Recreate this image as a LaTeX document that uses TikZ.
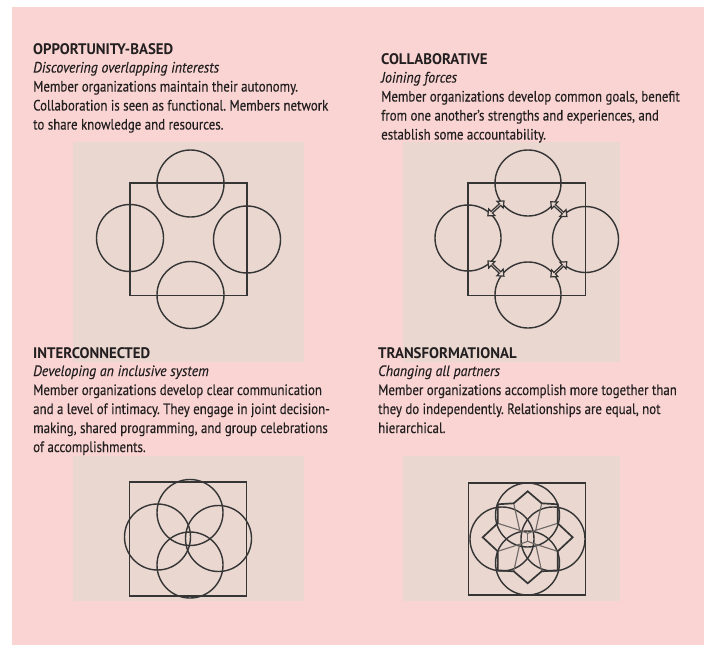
\documentclass[tikz,border=0pt]{standalone}
\usepackage{fontspec}
\setmainfont{PT Sans}[
  UprightFeatures={FakeStretch=0.86, FakeBold=0.25},
  BoldFeatures={FakeStretch=0.97},
  ItalicFeatures={FakeStretch=0.925, FakeBold=0.25}]
\usetikzlibrary{arrows.meta,calc,shapes.arrows}
\definecolor{pinkbg}{HTML}{F9D4D2}
\definecolor{boxbg}{HTML}{E9D7D0}
\definecolor{ink}{HTML}{353535}
\definecolor{txt}{HTML}{231F20}
\definecolor{thinink}{HTML}{6E6866}
\tikzset{
  txtbase/.style={anchor=base west, inner sep=0pt, text=txt},
  head/.style={txtbase, font=\fontsize{15.3}{18}\selectfont\bfseries\frenchspacing},
  sub/.style={txtbase, font=\fontsize{15}{18}\selectfont\itshape\frenchspacing},
  body/.style={txtbase, font=\fontsize{15}{18}\selectfont\frenchspacing},
  panel/.style={fill=boxbg, draw=none},
  sq/.style={draw=ink, line width=1.35pt},
  circ/.style={circle, draw=ink, line width=1.4pt, inner sep=0pt, minimum size=#1},
  circ/.default=66pt,
  dblarrow/.style={double arrow, draw=ink, fill=boxbg, line width=1.2pt, inner sep=0pt,
    minimum height=22pt, minimum width=9pt, double arrow head extend=2pt,
    double arrow tip angle=80},
  outline/.style={draw=ink, line width=1.7pt, line join=miter},
  thinline/.style={draw=thinink, line width=1.1pt}
}
\begin{document}
\begin{tikzpicture}[x=1pt,y=-1pt]
\useasboundingbox (0,0) rectangle (704,645);
\fill[white] (0,0) rectangle (704,645);
\fill[pinkbg] (12,7) rectangle (704,645);

% panels
\fill[panel] (73,142) rectangle (304,362);
\fill[panel] (403,142) rectangle (620,362);
\fill[panel] (73,456) rectangle (304,601);
\fill[panel] (403,456) rectangle (620,601);

% ---------- text block 1
\node[head] (h1) at (33,54.5) {OPPORTUNITY-BASED};
\node[sub]  (s1) at (33,72.5) {Discovering overlapping interests};
\node[body] (b1a) at (33,91.5) {Member organizations maintain their autonomy.};
\node[body] (b1b) at (33,110.5) {Collaboration is seen as functional. Members network};
\node[body] (b1c) at (33,129.5) {to share knowledge and resources.};

% ---------- text block 2
\node[head] (h2) at (381,64.5) {COLLABORATIVE};
\node[sub]  (s2) at (381,82.5) {Joining forces};
\node[body] (b2a) at (381,101.5) {Member organizations develop common goals, benefit};
\node[body] (b2b) at (381,120.5) {from one another’s strengths and experiences, and};
\node[body] (b2c) at (381,139.5) {establish some accountability.};

% ---------- text block 3
\node[head] (h3) at (33,358) {INTERCONNECTED};
\node[sub]  (s3) at (33,376) {Developing an inclusive system};
\node[body] (b3a) at (33,395) {Member organizations develop clear communication};
\node[body] (b3b) at (33,414) {and a level of intimacy. They engage in joint decision-};
\node[body] (b3c) at (33,433) {making, shared programming, and group celebrations};
\node[body] (b3d) at (33,452) {of accomplishments.};

% ---------- text block 4
\node[head] (h4) at (378,358) {TRANSFORMATIONAL};
\node[sub]  (s4) at (378,376) {Changing all partners};
\node[body] (b4a) at (378,395) {Member organizations accomplish more together than};
\node[body] (b4b) at (378,414) {they do independently. Relationships are equal, not};
\node[body] (b4c) at (378,433) {hierarchical.};

% ---------- diagram 1
\draw[sq] (130,183) rectangle (247,295.5);
\node[circ=67pt] (c1t) at (190.5,183.5) {};
\node[circ=67pt] (c1l) at (130,238) {};
\node[circ=67pt] (c1r) at (247,239.5) {};
\node[circ=67pt] (c1b) at (190.5,295) {};

% ---------- diagram 2
\draw[sq] (468,183) rectangle (585.5,295.5);
\node[circ] (c2t) at (528,183) {};
\node[circ] (c2l) at (468,238) {};
\node[circ] (c2r) at (585.5,239.5) {};
\node[circ] (c2b) at (528,295) {};
\node[dblarrow, rotate=42.5]  (a2lt) at ($(c2l.50)!0.5!(c2t.220)$) {};
\node[dblarrow, rotate=-42.5] (a2tr) at ($(c2t.320)!0.5!(c2r.130)$) {};
\node[dblarrow, rotate=-43.5] (a2lb) at ($(c2l.310)!0.5!(c2b.140)$) {};
\node[dblarrow, rotate=43.5]  (a2br) at ($(c2b.40)!0.5!(c2r.230)$) {};

% ---------- diagram 3
\draw[sq] (129.3,482) rectangle (246.7,596);
\node[circ] (c3t) at (190,512.5) {};
\node[circ] (c3l) at (157.5,537) {};
\node[circ] (c3r) at (218.5,538.5) {};
\node[circ] (c3b) at (190,565) {};

% ---------- diagram 4
\draw[sq] (468.3,483) rectangle (585.7,595);
\node[circ=64pt] (c4t) at (527.5,515) {};
\node[circ=64pt] (c4l) at (502,539) {};
\node[circ=64pt] (c4r) at (553,539) {};
\node[circ=64pt] (c4b) at (527.5,563) {};
\begin{scope}[shift={(527.7,537.3)}]
  \draw[thinline] (-14,-34) -- (-8,-7) -- (-30,-14);
  \draw[thinline] (14,-34) -- (8,-7) -- (30,-14);
  \draw[thinline] (-14,34) -- (-8,7) -- (-30,14);
  \draw[thinline] (14,34) -- (8,7) -- (30,14);
  \draw[thinline] (-8,-7) -- (0,-4) -- (8,-7);
  \draw[thinline] (0,-4) -- (0,4);
  \draw[thinline] (-8,7) -- (0,4) -- (8,7);
  \draw[outline] (0,-46) -- (-14,-34) -- (-30,-33) -- (-30,-14) -- (-45,0)
     -- (-30,14) -- (-30,33) -- (-14,34) -- (0,46) -- (14,34) -- (30,33)
     -- (30,14) -- (45,0) -- (30,-14) -- (30,-33) -- (14,-34) -- cycle;
\end{scope}
\end{tikzpicture}
\end{document}
